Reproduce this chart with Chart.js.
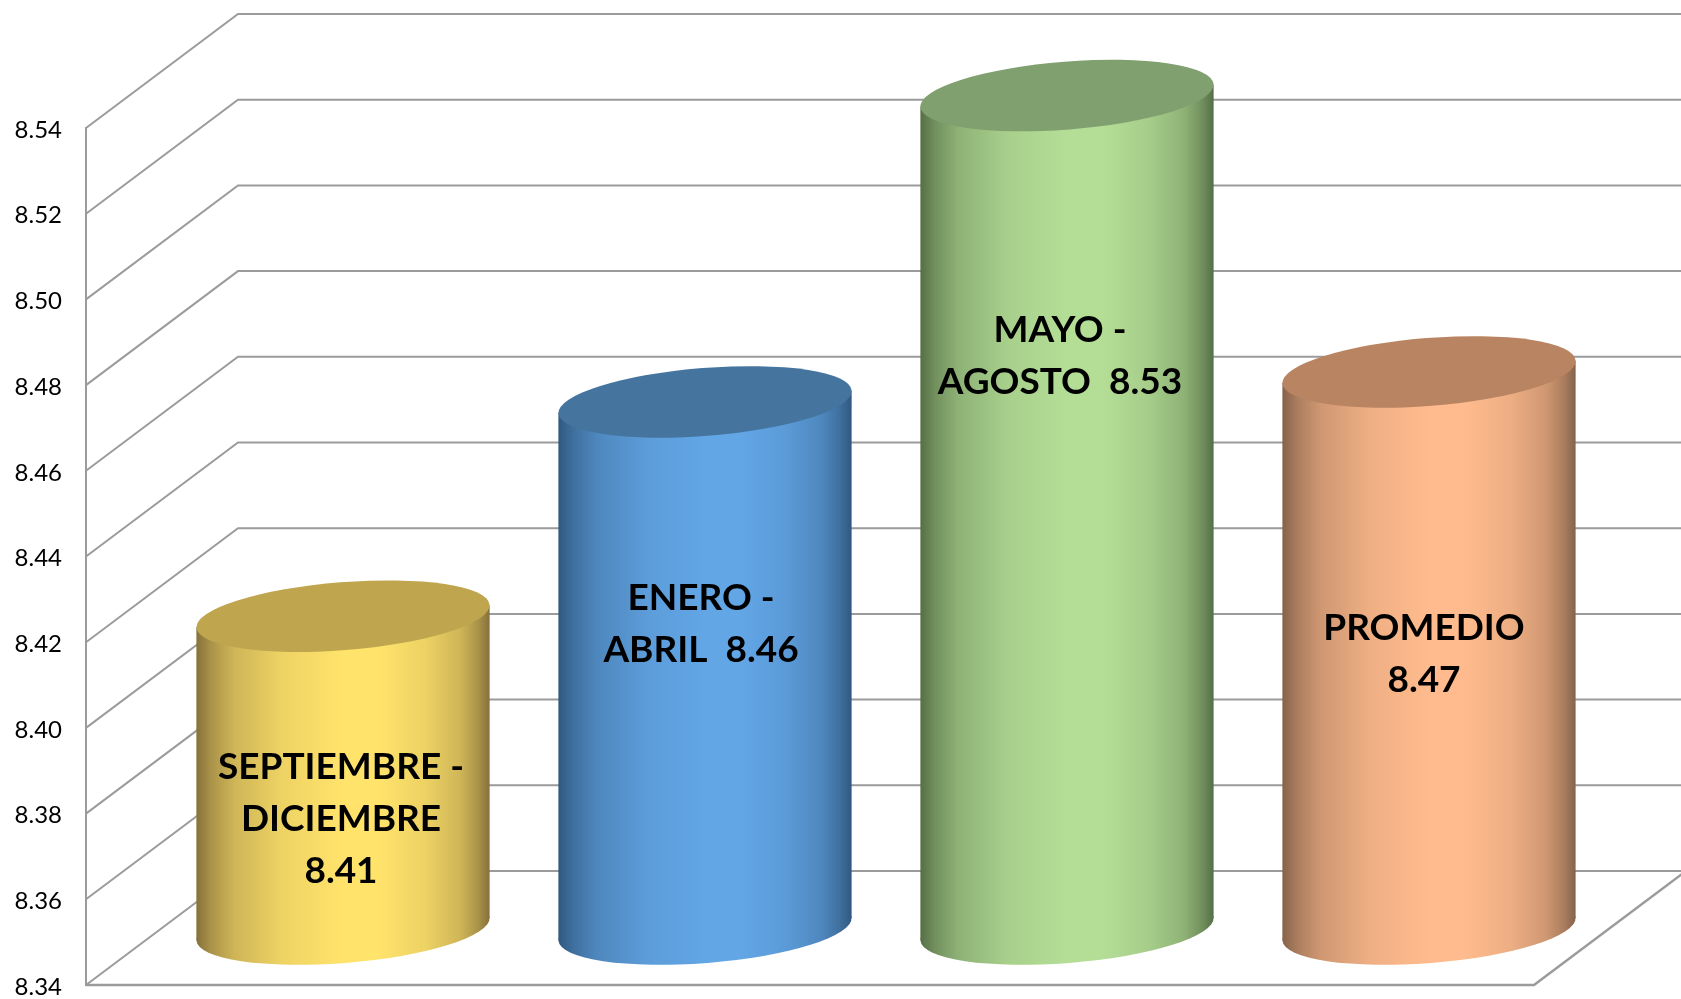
<!DOCTYPE html>
<html>
<head>
<meta charset="utf-8">
<style>
  html, body { margin: 0; padding: 0; background: #fff; }
  canvas { display: block; }
</style>
<script src="https://cdn.jsdelivr.net/npm/chart.js@4/dist/chart.umd.js"></script>
</head>
<body>
<canvas id="cylChart" width="1681" height="999"></canvas>
<script>
const categories = ["SEPTIEMBRE - DICIEMBRE", "ENERO - ABRIL", "MAYO - AGOSTO", "PROMEDIO"];
const values = [8.413, 8.463, 8.5345, 8.47];
const labelLines = [
  ["SEPTIEMBRE -", "DICIEMBRE", "8.41"],
  ["ENERO -", "ABRIL  8.46"],
  ["MAYO -", "AGOSTO  8.53"],
  ["PROMEDIO", "8.47"],
];
const yMin = 8.34;
const yMax = 8.54;
const yStep = 0.02;

// colours per bar: centre of the body, edge of the body, top cap
const lightColors = ["#ffe36b", "#62a6e6", "#b4de96", "#ffbb8d"];
const darkColors = ["#86703a", "#30587f", "#556f46", "#86624a"];
const capColors = ["#bfa64e", "#45759f", "#81a06f", "#b98461"];

// fake 3d depth of the box
const depthX = 152;
const depthY = 114;
// where the cylinders sit inside that depth
const barShiftX = 76;
const barShiftY = 56;
// label placement, relative to the middle of the top cap
const labelShiftX = [-2, -4, -7, -5];
const labelShiftY = [203, 222, 260, 282];
const lineHeight = 52;

const gridColor = "#9b9b9b";
const capTilt = 4.5 * Math.PI / 180;
const capMinor = 34;

function mix(c1, c2, t) {
  const a = parseInt(c1.slice(1), 16), b = parseInt(c2.slice(1), 16);
  const ch = (s) => Math.round(((a >> s) & 255) * (1 - t) + ((b >> s) & 255) * t);
  return `rgb(${ch(16)},${ch(8)},${ch(0)})`;
}

function bodyGradient(ctx, left, right, i) {
  const g = ctx.createLinearGradient(left, 0, right, 0);
  const stops = [[0, 0], [0.05, 0.3], [0.13, 0.6], [0.3, 0.87], [0.5, 1], [0.62, 1], [0.78, 0.85], [0.9, 0.6], [0.96, 0.3], [1, 0]];
  stops.forEach(([p, t]) => g.addColorStop(p, mix(darkColors[i], lightColors[i], t)));
  return g;
}

const boxPlugin = {
  id: "box",
  beforeDatasetsDraw(chart) {
    const { ctx, chartArea, scales } = chart;
    ctx.save();
    ctx.strokeStyle = gridColor;
    ctx.lineWidth = 2;
    scales.y.ticks.forEach((t) => {
      const y = scales.y.getPixelForValue(t.value);
      ctx.beginPath();
      ctx.moveTo(chartArea.left, y);
      ctx.lineTo(chartArea.left + depthX, y - depthY);
      ctx.lineTo(chart.width, y - depthY);
      ctx.stroke();
    });
    // front edge and right side of the floor
    ctx.lineWidth = 2.5;
    ctx.beginPath();
    ctx.moveTo(chartArea.left, chartArea.bottom);
    ctx.lineTo(chartArea.right, chartArea.bottom);
    ctx.lineTo(chartArea.right + depthX, chartArea.bottom - depthY);
    ctx.stroke();
    ctx.restore();
  },
};

const cylinderPlugin = {
  id: "cylinder",
  afterDatasetsDraw(chart) {
    const ctx = chart.ctx;
    const bars = chart.getDatasetMeta(0).data;
    bars.forEach((bar, i) => {
      const cx = bar.x + barShiftX;
      const half = bar.width / 2;
      const yTop = bar.y - barShiftY;
      const yBottom = bar.base - barShiftY;
      const sin = Math.sin(capTilt), cos = Math.cos(capTilt);
      const major = Math.sqrt((half * half - capMinor * capMinor * sin * sin) / (cos * cos));
      const lift = (major * major - capMinor * capMinor) * sin * cos / half;

      ctx.save();
      ctx.fillStyle = bodyGradient(ctx, cx - half, cx + half, i);
      ctx.beginPath();
      ctx.ellipse(cx, yBottom, major, capMinor, -capTilt, 0, Math.PI * 2);
      ctx.fill();
      ctx.beginPath();
      ctx.moveTo(cx - half, yTop + lift);
      ctx.lineTo(cx + half, yTop - lift);
      ctx.lineTo(cx + half, yBottom - lift);
      ctx.lineTo(cx - half, yBottom + lift);
      ctx.closePath();
      ctx.fill();

      ctx.fillStyle = capColors[i];
      ctx.beginPath();
      ctx.ellipse(cx, yTop, major, capMinor, -capTilt, 0, Math.PI * 2);
      ctx.fill();

      ctx.fillStyle = "#000";
      ctx.font = "bold 37px Lato";
      ctx.textAlign = "center";
      ctx.textBaseline = "middle";
      const lines = labelLines[i];
      const mid = yTop + labelShiftY[i];
      lines.forEach((line, n) => {
        ctx.fillText(line, cx + labelShiftX[i], mid + (n - (lines.length - 1) / 2) * lineHeight);
      });
      ctx.restore();
    });
  },
};

new Chart(document.getElementById("cylChart"), {
  type: "bar",
  data: {
    labels: categories,
    datasets: [{
      data: values,
      base: yMin,
      backgroundColor: "rgba(0,0,0,0)",
      barPercentage: 0.81,
      categoryPercentage: 1,
    }],
  },
  plugins: [boxPlugin, cylinderPlugin],
  options: {
    responsive: false,
    animation: false,
    layout: { autoPadding: false, padding: { top: 128, bottom: 14, right: 147, left: 0 } },
    plugins: { legend: { display: false }, tooltip: { enabled: false } },
    scales: {
      x: { display: false },
      y: {
        min: yMin,
        max: yMax,
        grid: { display: false, drawTicks: false },
        border: { color: gridColor, width: 2 },
        ticks: {
          stepSize: yStep,
          padding: 24,
          labelOffset: 2,
          color: "#000",
          font: { family: "Lato", size: 24 },
          callback: (v) => v.toFixed(2),
        },
        afterFit(scale) {
          scale.width = 86;
          // tick padding otherwise eats into the bottom of the chart area
          scale.paddingTop = 0;
          scale.paddingBottom = 0;
        },
      },
    },
  },
});
</script>
</body>
</html>
